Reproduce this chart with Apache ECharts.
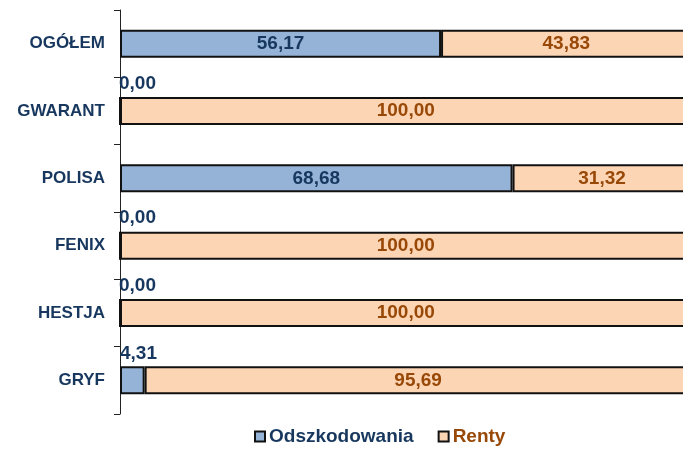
<!DOCTYPE html>
<html>
<head>
<meta charset="utf-8">
<script src="https://cdn.jsdelivr.net/npm/echarts@6/dist/echarts.min.js"></script>
<style>
  html, body { margin: 0; padding: 0; background: #fff; }
  #chart { width: 683px; height: 456px; }
</style>
</head>
<body>
<div id="chart"></div>
<script>
// dane
var categories = ['OGÓŁEM', 'GWARANT', 'POLISA', 'FENIX', 'HESTJA', 'GRYF'];
var odszkodowania = [56.17, 0.00, 68.68, 0.00, 0.00, 4.31];
var renty = [43.83, 100.00, 31.32, 100.00, 100.00, 95.69];

var blueText = '#17375E';
var orangeText = '#984807';
var fontFam = '"Liberation Sans", Arial, sans-serif';

function fmt(v) {
  return v.toFixed(2).replace('.', ',');
}

// male wartosci - etykieta nad slupkiem
var odszData = odszkodowania.map(function (v) {
  if (v < 10) {
    return {
      value: v,
      label: { position: [0, -3], align: 'left', verticalAlign: 'bottom' }
    };
  }
  return v;
});

var chart = echarts.init(document.getElementById('chart'), null, { renderer: 'canvas' });

var option = {
  animation: false,
  backgroundColor: '#fff',
  grid: { left: 120, right: 0, top: 10, bottom: 42, containLabel: false },
  legend: {
    left: 249,
    bottom: 5,
    itemWidth: 10,
    itemHeight: 10,
    itemGap: 24,
    icon: 'rect',
    data: [
      { name: 'Odszkodowania', textStyle: { color: blueText } },
      { name: 'Renty', textStyle: { color: orangeText } }
    ],
    textStyle: { fontFamily: fontFam, fontWeight: 'bold', fontSize: 19, padding: [0, 0, 0, -1] }
  },
  xAxis: {
    type: 'value',
    min: 0,
    max: 98.5, // 100% wychodzi poza prawa krawedz
    show: false
  },
  yAxis: {
    type: 'category',
    inverse: true,
    data: categories,
    axisLine: { show: true, lineStyle: { color: '#222', width: 1 } },
    axisTick: { show: true, length: 6, lineStyle: { color: '#222' } },
    axisLabel: {
      color: blueText,
      fontFamily: fontFam,
      fontWeight: 'bold',
      fontSize: 17,
      margin: 15
    },
    splitLine: { show: false }
  },
  series: [
    {
      name: 'Odszkodowania',
      type: 'bar',
      stack: 'all',
      barWidth: 28,
      clip: false,
      data: odszData,
      itemStyle: { color: '#95B3D7', borderColor: '#111', borderWidth: 2 },
      label: {
        show: true,
        position: 'inside',
        color: blueText,
        fontFamily: fontFam,
        fontWeight: 'bold',
        fontSize: 19,
        formatter: function (p) { return fmt(p.value); }
      }
    },
    {
      name: 'Renty',
      type: 'bar',
      stack: 'all',
      barWidth: 28,
      clip: false,
      data: renty,
      itemStyle: { color: '#FCD5B5', borderColor: '#111', borderWidth: 2 },
      label: {
        show: true,
        position: 'inside',
        color: orangeText,
        fontFamily: fontFam,
        fontWeight: 'bold',
        fontSize: 19,
        formatter: function (p) { return fmt(p.value); }
      }
    }
  ]
};

chart.setOption(option);
</script>
</body>
</html>
